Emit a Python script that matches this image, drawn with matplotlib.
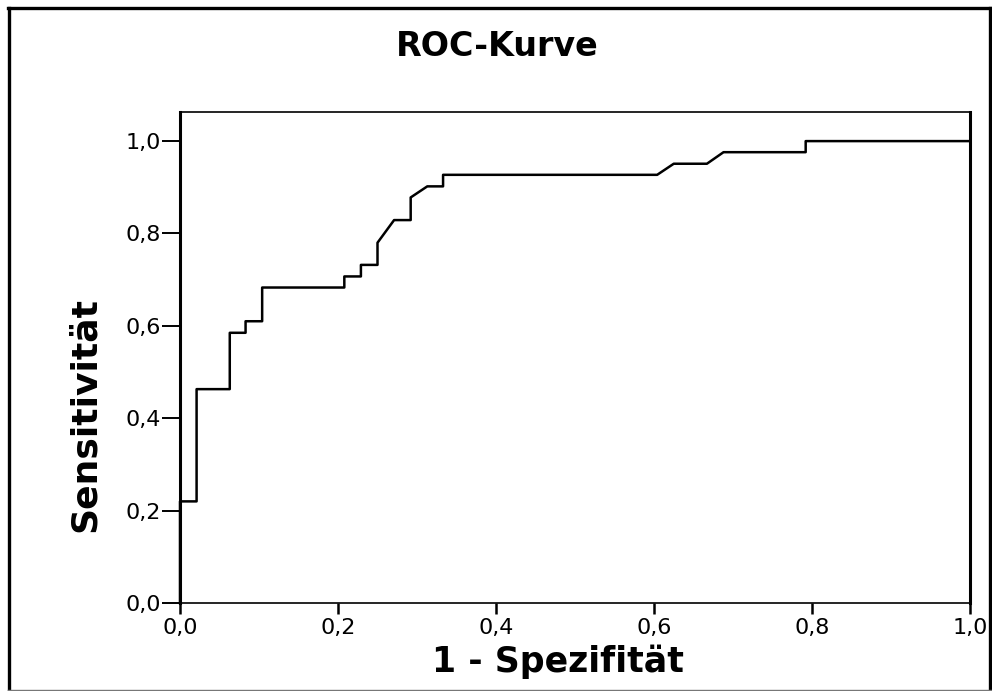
import matplotlib
matplotlib.use('Agg')
import matplotlib.pyplot as plt
from matplotlib.lines import Line2D

# ROC curve points (1 - specificity, sensitivity)
fpr = [0.0, 0.0, 0.021, 0.021, 0.063, 0.063, 0.083, 0.083, 0.104, 0.104,
       0.208, 0.208, 0.229, 0.229, 0.250, 0.250, 0.271, 0.292, 0.292, 0.313,
       0.333, 0.333, 0.604, 0.625, 0.667, 0.688, 0.792, 0.792, 1.0]
tpr = [0.0, 0.220, 0.220, 0.463, 0.463, 0.585, 0.585, 0.610, 0.610, 0.683,
       0.683, 0.707, 0.707, 0.732, 0.732, 0.780, 0.829, 0.829, 0.878, 0.902,
       0.902, 0.927, 0.927, 0.951, 0.951, 0.976, 0.976, 1.0, 1.0]

ticks = [0.0, 0.2, 0.4, 0.6, 0.8, 1.0]
tick_labels = ['0,0', '0,2', '0,4', '0,6', '0,8', '1,0']

W, H = 992, 691
fig = plt.figure(figsize=(W / 100, H / 100), dpi=100)
fig.patch.set_facecolor('white')

ax = fig.add_axes([180 / W, 1 - 603 / H, 790 / W, (603 - 112) / H])
ax.plot(fpr, tpr, color='black', lw=1.8, clip_on=False, zorder=3)
ax.set_xlim(0, 1)
ax.set_ylim(0, 1.063)

ax.set_xticks(ticks)
ax.set_xticklabels(tick_labels, fontsize=16)
ax.set_yticks(ticks)
ax.set_yticklabels(tick_labels, fontsize=16)
ax.tick_params(axis='x', direction='out', length=8, width=1.8, pad=3)
ax.tick_params(axis='y', direction='out', length=13, width=1.4, pad=1)

ax.spines['left'].set_linewidth(2.2)
ax.spines['right'].set_linewidth(2.2)
ax.spines['top'].set_linewidth(1.2)
ax.spines['bottom'].set_linewidth(1.2)

fig.text(497 / W, 1 - 47 / H, 'ROC-Kurve', fontsize=24, fontweight='bold',
         ha='center', va='center')
fig.text(558 / W, 1 - 662 / H, '1 - Spezifität', fontsize=25,
         fontweight='bold', ha='center', va='center')
fig.text(85 / W, 1 - 415 / H, 'Sensitivität', fontsize=26, fontweight='bold',
         rotation=90, ha='center', va='center')

# outer frame around the whole picture
fig.add_artist(Line2D([9 / W, 9 / W], [1 - 690 / H, 1 - 8 / H], color='black',
                      lw=2.4, transform=fig.transFigure))
fig.add_artist(Line2D([8 / W, 991 / W], [1 - 8 / H, 1 - 8 / H], color='black',
                      lw=2.4, transform=fig.transFigure))
fig.add_artist(Line2D([990 / W, 990 / W], [1 - 690 / H, 1 - 8 / H],
                      color='black', lw=2.4, transform=fig.transFigure))
fig.add_artist(Line2D([8 / W, 991 / W], [1 - 690 / H, 1 - 690 / H],
                      color='#777777', lw=1.0, transform=fig.transFigure))

fig.savefig('out.png', dpi=100)
